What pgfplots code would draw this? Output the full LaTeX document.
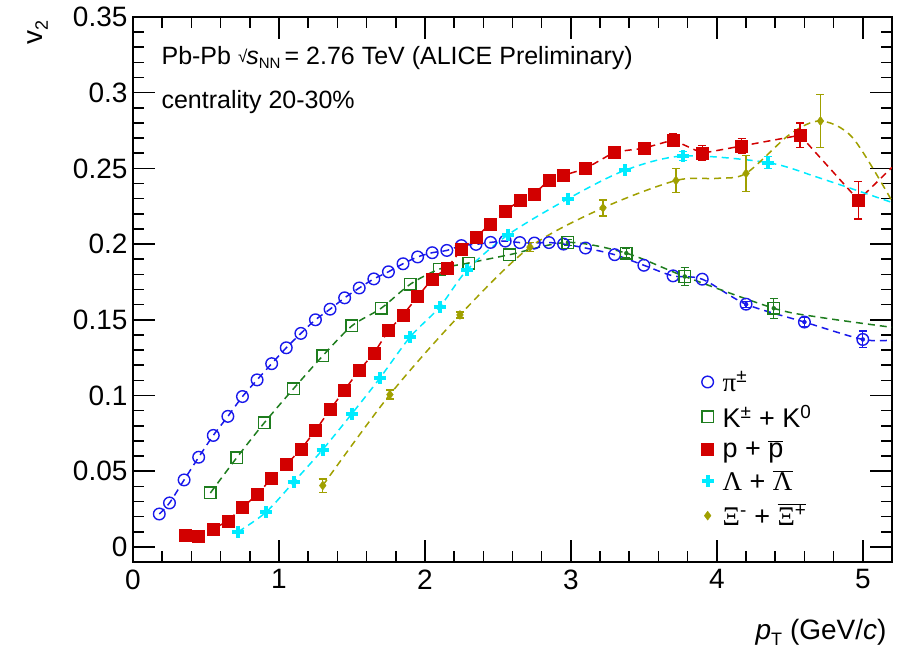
\documentclass[border=0pt]{standalone}
\usepackage{pgfplots}
\pgfplotsset{compat=1.18}
\usepackage{fontspec}
\setmainfont{Liberation Sans}
\newfontfamily\grk{Liberation Serif}
\definecolor{cpi}{RGB}{25,25,235}
\definecolor{cka}{RGB}{30,125,30}
\definecolor{cpr}{RGB}{210,0,0}
\definecolor{cla}{RGB}{0,235,255}
\definecolor{cxi}{RGB}{160,160,0}
\begin{document}
\begin{tikzpicture}
\useasboundingbox (-133pt,-89pt) rectangle (773pt,562pt);
\begin{axis}[
  scale only axis, width=759pt, height=545pt,
  xmin=0, xmax=5.2, ymin=-0.01, ymax=0.35,
  xtick={0,1,2,3,4,5},
  ytick={0,0.05,0.1,0.15,0.2,0.25,0.3,0.35},
  minor x tick num=4, minor y tick num=4,
  tick align=inside, xtick pos=both, ytick pos=both,
  xticklabel pos=bottom, yticklabel pos=left,
  major tick length=22pt, minor tick length=11pt,
  every tick/.style={black, line width=1.6pt},
  axis line style={line width=1.8pt},
  tick label style={font=\fontsize{28}{30}\selectfont},
  /pgf/number format/assume math mode=true,
  yticklabel style={/pgf/number format/fixed, /pgf/number format/precision=2, xshift=-2pt},
  xticklabel style={yshift=-4pt},
  legend style={at={(rel axis cs:0.745,0.358)}, anchor=north west, draw=none, fill=none,
    font=\fontsize{27}{30}\selectfont, row sep=8pt, legend cell align=left,
    /tikz/every odd column/.append style={column sep=7pt}},
  clip=true,
]
% ---- fit / guide lines ----
\addplot[forget plot, cpi, line width=1.5pt, dash pattern=on 7pt off 5pt, smooth] coordinates {
(0.18,0.0217)(0.25,0.0290)(0.35,0.0442)(0.45,0.0592)(0.55,0.0736)(0.65,0.0862)(0.75,0.0993)
(0.85,0.1103)(0.95,0.1210)(1.05,0.1315)(1.15,0.1410)(1.25,0.1500)(1.35,0.1570)(1.45,0.1645)
(1.55,0.1710)(1.65,0.1770)(1.75,0.1817)(1.85,0.1870)(1.95,0.1915)(2.05,0.1943)(2.15,0.1958)
(2.25,0.1990)(2.35,0.1998)(2.45,0.2011)(2.55,0.2020)(2.65,0.2010)(2.75,0.2007)(2.85,0.2010)
(2.95,0.2000)(3.10,0.1974)(3.30,0.1930)(3.50,0.1860)(3.70,0.1790)(3.90,0.1768)(4.20,0.1603)
(4.60,0.1485)(5.00,0.1370)(5.20,0.1366)};
\addplot[forget plot, cka, line width=1.5pt, dash pattern=on 7pt off 5pt, smooth] coordinates {
(0.53,0.0356)(0.71,0.0588)(0.90,0.0820)(1.10,0.1045)(1.30,0.1262)(1.50,0.1460)(1.70,0.1576)
(1.90,0.1735)(2.10,0.1835)(2.30,0.1875)(2.58,0.1930)(2.98,0.2011)(3.38,0.1940)(3.78,0.1786)
(4.39,0.1576)(4.70,0.1517)(5.20,0.1450)};
\addplot[forget plot, cpr, line width=1.5pt, dash pattern=on 7pt off 5pt] coordinates {
(0.36,0.0078)(0.45,0.0073)(0.55,0.0117)(0.65,0.0172)(0.75,0.0260)(0.85,0.0345)(0.95,0.0453)
(1.05,0.0544)(1.15,0.0643)(1.25,0.0769)(1.35,0.0906)(1.45,0.1037)(1.55,0.1167)(1.65,0.1278)
(1.75,0.1428)(1.85,0.1532)(1.95,0.1653)(2.05,0.1770)(2.15,0.1841)(2.25,0.1963)(2.35,0.2047)
(2.45,0.2134)(2.55,0.2216)(2.65,0.2290)(2.75,0.2332)(2.85,0.2423)(2.95,0.2454)(3.10,0.2498)
(3.30,0.2609)(3.50,0.2633)(3.70,0.2688)(3.90,0.2600)(4.17,0.2648)(4.57,0.2719)(4.97,0.2290)
(5.20,0.2507)};
\addplot[forget plot, cla, line width=1.5pt, dash pattern=on 7pt off 5pt, smooth] coordinates {
(0.72,0.0099)(0.91,0.0228)(1.10,0.0427)(1.30,0.0643)(1.50,0.0880)(1.69,0.1113)(1.90,0.1388)
(2.10,0.1583)(2.29,0.1830)(2.57,0.2062)(2.98,0.2299)(3.37,0.2487)(3.77,0.2582)(4.35,0.2538)
(4.70,0.2438)(5.20,0.2275)};
\addplot[forget plot, cxi, line width=1.5pt, dash pattern=on 7pt off 5pt, smooth] coordinates {
(1.30,0.0405)(1.76,0.1006)(2.24,0.1532)(2.72,0.1980)(3.22,0.2239)(3.72,0.2420)(4.00,0.2434)
(4.20,0.2467)(4.50,0.2725)(4.71,0.2813)(4.93,0.2703)(5.20,0.2284)};
% ---- error bars ----
\addplot[forget plot, cpi, only marks, mark=none, error bars/.cd, y dir=both, y explicit,
  error bar style={line width=1.3pt, solid}, error mark options={rotate=90, mark size=4pt, line width=1.3pt}]
  coordinates {(4.20,0.1603) +- (0,0.002) (4.60,0.1485) +- (0,0.003) (5.00,0.1370) +- (0,0.0055)};
\addplot[forget plot, cka, only marks, mark=none, error bars/.cd, y dir=both, y explicit,
  error bar style={line width=1.3pt, solid}, error mark options={rotate=90, mark size=4pt, line width=1.3pt}]
  coordinates {(2.98,0.2011) +- (0,0.002) (3.38,0.1940) +- (0,0.003) (3.78,0.1786) +- (0,0.006) (4.39,0.1576) +- (0,0.0066)};
\addplot[forget plot, cpr, only marks, mark=none, error bars/.cd, y dir=both, y explicit,
  error bar style={line width=1.3pt, solid}, error mark options={rotate=90, mark size=4pt, line width=1.3pt}]
  coordinates {(2.95,0.2454) +- (0,0.003) (3.70,0.2688) +- (0,0.004) (3.90,0.2600) +- (0,0.005)
  (4.17,0.2648) +- (0,0.005) (4.57,0.2719) +- (0,0.008) (4.97,0.2290) +- (0,0.0125)};
\addplot[forget plot, cla, only marks, mark=none, error bars/.cd, y dir=both, y explicit,
  error bar style={line width=1.3pt, solid}, error mark options={rotate=90, mark size=4pt, line width=1.3pt}]
  coordinates {(3.77,0.2582) +- (0,0.003) (4.35,0.2538) +- (0,0.004)};
\addplot[forget plot, cxi, only marks, mark=none, error bars/.cd, y dir=both, y explicit,
  error bar style={line width=1.3pt, solid}, error mark options={rotate=90, mark size=4pt, line width=1.3pt}]
  coordinates {(1.30,0.0405) +- (0,0.0044) (1.76,0.1006) +- (0,0.003) (2.24,0.1532) +- (0,0.002)
  (2.72,0.1980) +- (0,0.003) (3.22,0.2239) +- (0,0.0053) (3.72,0.2420) +- (0,0.0077)
  (4.20,0.2467) +- (0,0.012) (4.71,0.2813) +- (0,0.0176)};
% ---- markers ----
\addplot[cpi, only marks, mark=o, mark size=5.8pt, mark options={line width=1.4pt}] coordinates {
(0.18,0.0217)(0.25,0.0290)(0.35,0.0442)(0.45,0.0592)(0.55,0.0736)(0.65,0.0862)(0.75,0.0993)
(0.85,0.1103)(0.95,0.1210)(1.05,0.1315)(1.15,0.1410)(1.25,0.1500)(1.35,0.1570)(1.45,0.1645)
(1.55,0.1710)(1.65,0.1770)(1.75,0.1817)(1.85,0.1870)(1.95,0.1915)(2.05,0.1943)(2.15,0.1958)
(2.25,0.1990)(2.35,0.1998)(2.45,0.2011)(2.55,0.2020)(2.65,0.2010)(2.75,0.2007)(2.85,0.2010)
(2.95,0.2000)(3.10,0.1974)(3.30,0.1930)(3.50,0.1860)(3.70,0.1790)(3.90,0.1768)(4.20,0.1603)
(4.60,0.1485)(5.00,0.1370)};
\addlegendentry{{\grk π}\textsuperscript{±}}
\addplot[cka, only marks, mark=square, mark size=5.8pt, mark options={line width=1.4pt}] coordinates {
(0.53,0.0356)(0.71,0.0588)(0.90,0.0820)(1.10,0.1045)(1.30,0.1262)(1.50,0.1460)(1.70,0.1576)
(1.90,0.1735)(2.10,0.1835)(2.30,0.1875)(2.58,0.1930)(2.98,0.2011)(3.38,0.1940)(3.78,0.1786)
(4.39,0.1576)};
\addlegendentry{K\textsuperscript{±} + K\textsuperscript{0}}
\addplot[cpr, only marks, mark=square*, mark size=6pt, mark options={line width=0.5pt}] coordinates {
(0.36,0.0078)(0.45,0.0073)(0.55,0.0117)(0.65,0.0172)(0.75,0.0260)(0.85,0.0345)(0.95,0.0453)
(1.05,0.0544)(1.15,0.0643)(1.25,0.0769)(1.35,0.0906)(1.45,0.1037)(1.55,0.1167)(1.65,0.1278)
(1.75,0.1428)(1.85,0.1532)(1.95,0.1653)(2.05,0.1770)(2.15,0.1841)(2.25,0.1963)(2.35,0.2047)
(2.45,0.2134)(2.55,0.2216)(2.65,0.2290)(2.75,0.2332)(2.85,0.2423)(2.95,0.2454)(3.10,0.2498)
(3.30,0.2609)(3.50,0.2633)(3.70,0.2688)(3.90,0.2600)(4.17,0.2648)(4.57,0.2719)(4.97,0.2290)};
\addlegendentry{p + $\overline{\mbox{p}}$}
\addplot[cla, only marks, mark=+, mark size=6pt, mark options={line width=4pt}] coordinates {
(0.72,0.0099)(0.91,0.0228)(1.10,0.0427)(1.30,0.0643)(1.50,0.0880)(1.69,0.1113)(1.90,0.1388)
(2.10,0.1583)(2.29,0.1830)(2.57,0.2062)(2.98,0.2299)(3.37,0.2487)(3.77,0.2582)(4.35,0.2538)};
\addlegendentry{{\grk Λ} + $\overline{\mbox{\grk Λ}}$}
\addplot[cxi, only marks, mark=diamond*, mark size=4.5pt] coordinates {
(1.30,0.0405)(1.76,0.1006)(2.24,0.1532)(2.72,0.1980)(3.22,0.2239)(3.72,0.2420)(4.20,0.2467)(4.71,0.2813)};
\addlegendentry{{\grk Ξ}\textsuperscript{-} + $\overline{\mbox{{\grk Ξ}\textsuperscript{+}}}$}
% ---- texts ----
\node[anchor=base west, font=\fontsize{25}{28}\selectfont] at (rel axis cs:0.033,0.912)
  {Pb-Pb \raisebox{2pt}{\fontsize{17}{18}\selectfont √}\kern-1pt\textit{s}\raisebox{-4pt}{\fontsize{15}{16}\selectfont NN}\,= 2.76 TeV (ALICE Preliminary)};
\node[anchor=base west, font=\fontsize{25}{28}\selectfont] at (rel axis cs:0.033,0.832)
  {centrality 20-30\%};
\end{axis}
\node[anchor=base east, font=\fontsize{28}{30}\selectfont] at (757pt,-78pt)
  {\textit{p}\raisebox{-5pt}{\fontsize{18}{18}\selectfont T} (GeV/\textit{c})};
\node[rotate=90, anchor=base east, font=\fontsize{28}{30}\selectfont] at (-90pt,545pt)
  {v\raisebox{-5pt}{\fontsize{18}{18}\selectfont 2}};
\end{tikzpicture}
\end{document}
